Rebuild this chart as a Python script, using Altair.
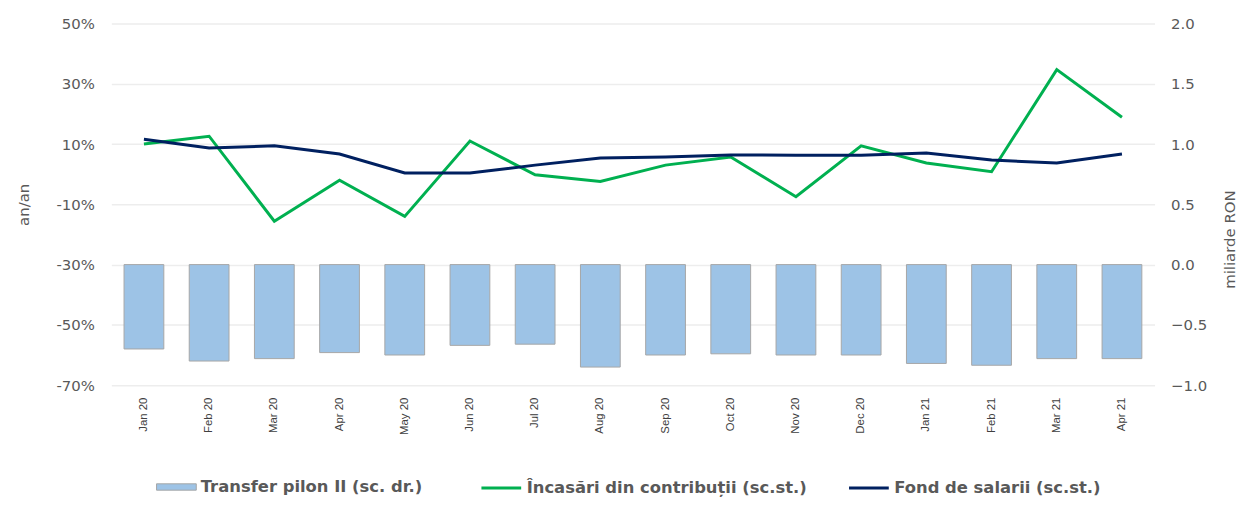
import altair as alt
import pandas as pd

months = ["Jan 20", "Feb 20", "Mar 20", "Apr 20", "May 20", "Jun 20", "Jul 20", "Aug 20",
          "Sep 20", "Oct 20", "Nov 20", "Dec 20", "Jan 21", "Feb 21", "Mar 21", "Apr 21"]
transfer = [-0.70, -0.80, -0.78, -0.73, -0.75, -0.67, -0.66, -0.85,
            -0.75, -0.74, -0.75, -0.75, -0.82, -0.835, -0.78, -0.78]
incasari = [10.0, 12.6, -15.6, -2.0, -14.0, 11.0, -0.2, -2.4,
            3.0, 5.7, -7.5, 9.4, 3.7, 0.8, 34.7, 18.9]
fond = [11.6, 8.7, 9.4, 6.7, 0.4, 0.4, 3.0, 5.4,
        5.7, 6.4, 6.3, 6.3, 7.0, 4.7, 3.7, 6.7]

bar_name = "Transfer pilon II (sc. dr.)"
green_name = "Încasări din contribuții (sc.st.)"
navy_name = "Fond de salarii (sc.st.)"

bars_df = pd.DataFrame({"month": months, "value": transfer, "series": [bar_name] * len(months)})
lines_df = pd.DataFrame({
    "month": months * 2,
    "value": incasari + fond,
    "series": [green_name] * len(months) + [navy_name] * len(months),
})

grey = "#595959"
xscale = alt.Scale(paddingInner=0.39, paddingOuter=0.195)
xenc = alt.X("month:N", sort=months, scale=xscale,
             axis=alt.Axis(title=None, labelAngle=270, domain=False, ticks=False,
                           labelPadding=12, labelFont="Liberation Sans", labelFontSize=11.5,
                           labelColor="#404040", grid=False))

bars = alt.Chart(bars_df).mark_bar(color="#9DC3E6", stroke="#A6A6A6", strokeWidth=1).encode(
    x=xenc,
    y=alt.Y("value:Q", scale=alt.Scale(domain=[-1, 2], nice=False, zero=False),
            axis=alt.Axis(orient="right", title="miliarde RON", values=[-1, -0.5, 0, 0.5, 1, 1.5, 2],
                          format=".1f", grid=False, domain=False, ticks=False, labelPadding=16,
                          labelFont="DejaVu Sans", labelFontSize=15, labelColor=grey,
                          titleFont="DejaVu Sans", titleFontSize=15, titleFontWeight="normal",
                          titleColor=grey, titleAngle=270, titlePadding=31, titleY=217)),
    fill=alt.Fill("series:N", scale=alt.Scale(domain=[bar_name], range=["#9DC3E6"]),
                  legend=alt.Legend(title=None, orient="none", legendX=45, legendY=446,
                                    symbolType="M-1,-0.16H1V0.16H-1Z", symbolSize=1600,
                                    symbolStrokeColor="#A6A6A6", symbolStrokeWidth=1,
                                    symbolOpacity=1, labelFont="DejaVu Sans", labelFontSize=16.5,
                                    labelFontWeight="bold", labelColor=grey, labelOffset=4,
                                    labelLimit=400, padding=0)),
)

lines = alt.Chart(lines_df).mark_line(strokeWidth=3).encode(
    x=xenc,
    y=alt.Y("value:Q", scale=alt.Scale(domain=[-70, 50], nice=False, zero=False),
            axis=alt.Axis(orient="left", title="an/an", values=[-70, -50, -30, -10, 10, 30, 50],
                          labelExpr="datum.value + '%'", grid=True, gridColor="#EDEDED",
                          gridWidth=1.5, domain=False, ticks=False, labelPadding=17,
                          labelFont="DejaVu Sans", labelFontSize=15, labelColor=grey,
                          titleFont="DejaVu Sans", titleFontSize=15, titleFontWeight="normal",
                          titleColor=grey, titlePadding=25)),
    stroke=alt.Stroke("series:N", scale=alt.Scale(domain=[green_name, navy_name],
                                                 range=["#00B050", "#002060"]),
                      legend=alt.Legend(title=None, orient="none", direction="horizontal",
                                        legendX=371, legendY=446, symbolType="stroke",
                                        symbolSize=1600, symbolStrokeWidth=3,
                                        labelFont="DejaVu Sans", labelFontSize=16.5,
                                        labelFontWeight="bold", labelColor=grey, labelOffset=4,
                                        labelLimit=400, columnPadding=35, padding=0)),
    detail="series:N",
)

chart = alt.layer(bars, lines).resolve_scale(y="independent", fill="independent",
                                             stroke="independent").properties(
    width=1050, height=364,
    padding={"left": 104, "top": 14, "right": 86, "bottom": 113},
    autosize=alt.AutoSizeParams(type="none"),
).configure_view(stroke=None)

chart.save("out.html", embed_options={"renderer": "svg", "actions": False})
